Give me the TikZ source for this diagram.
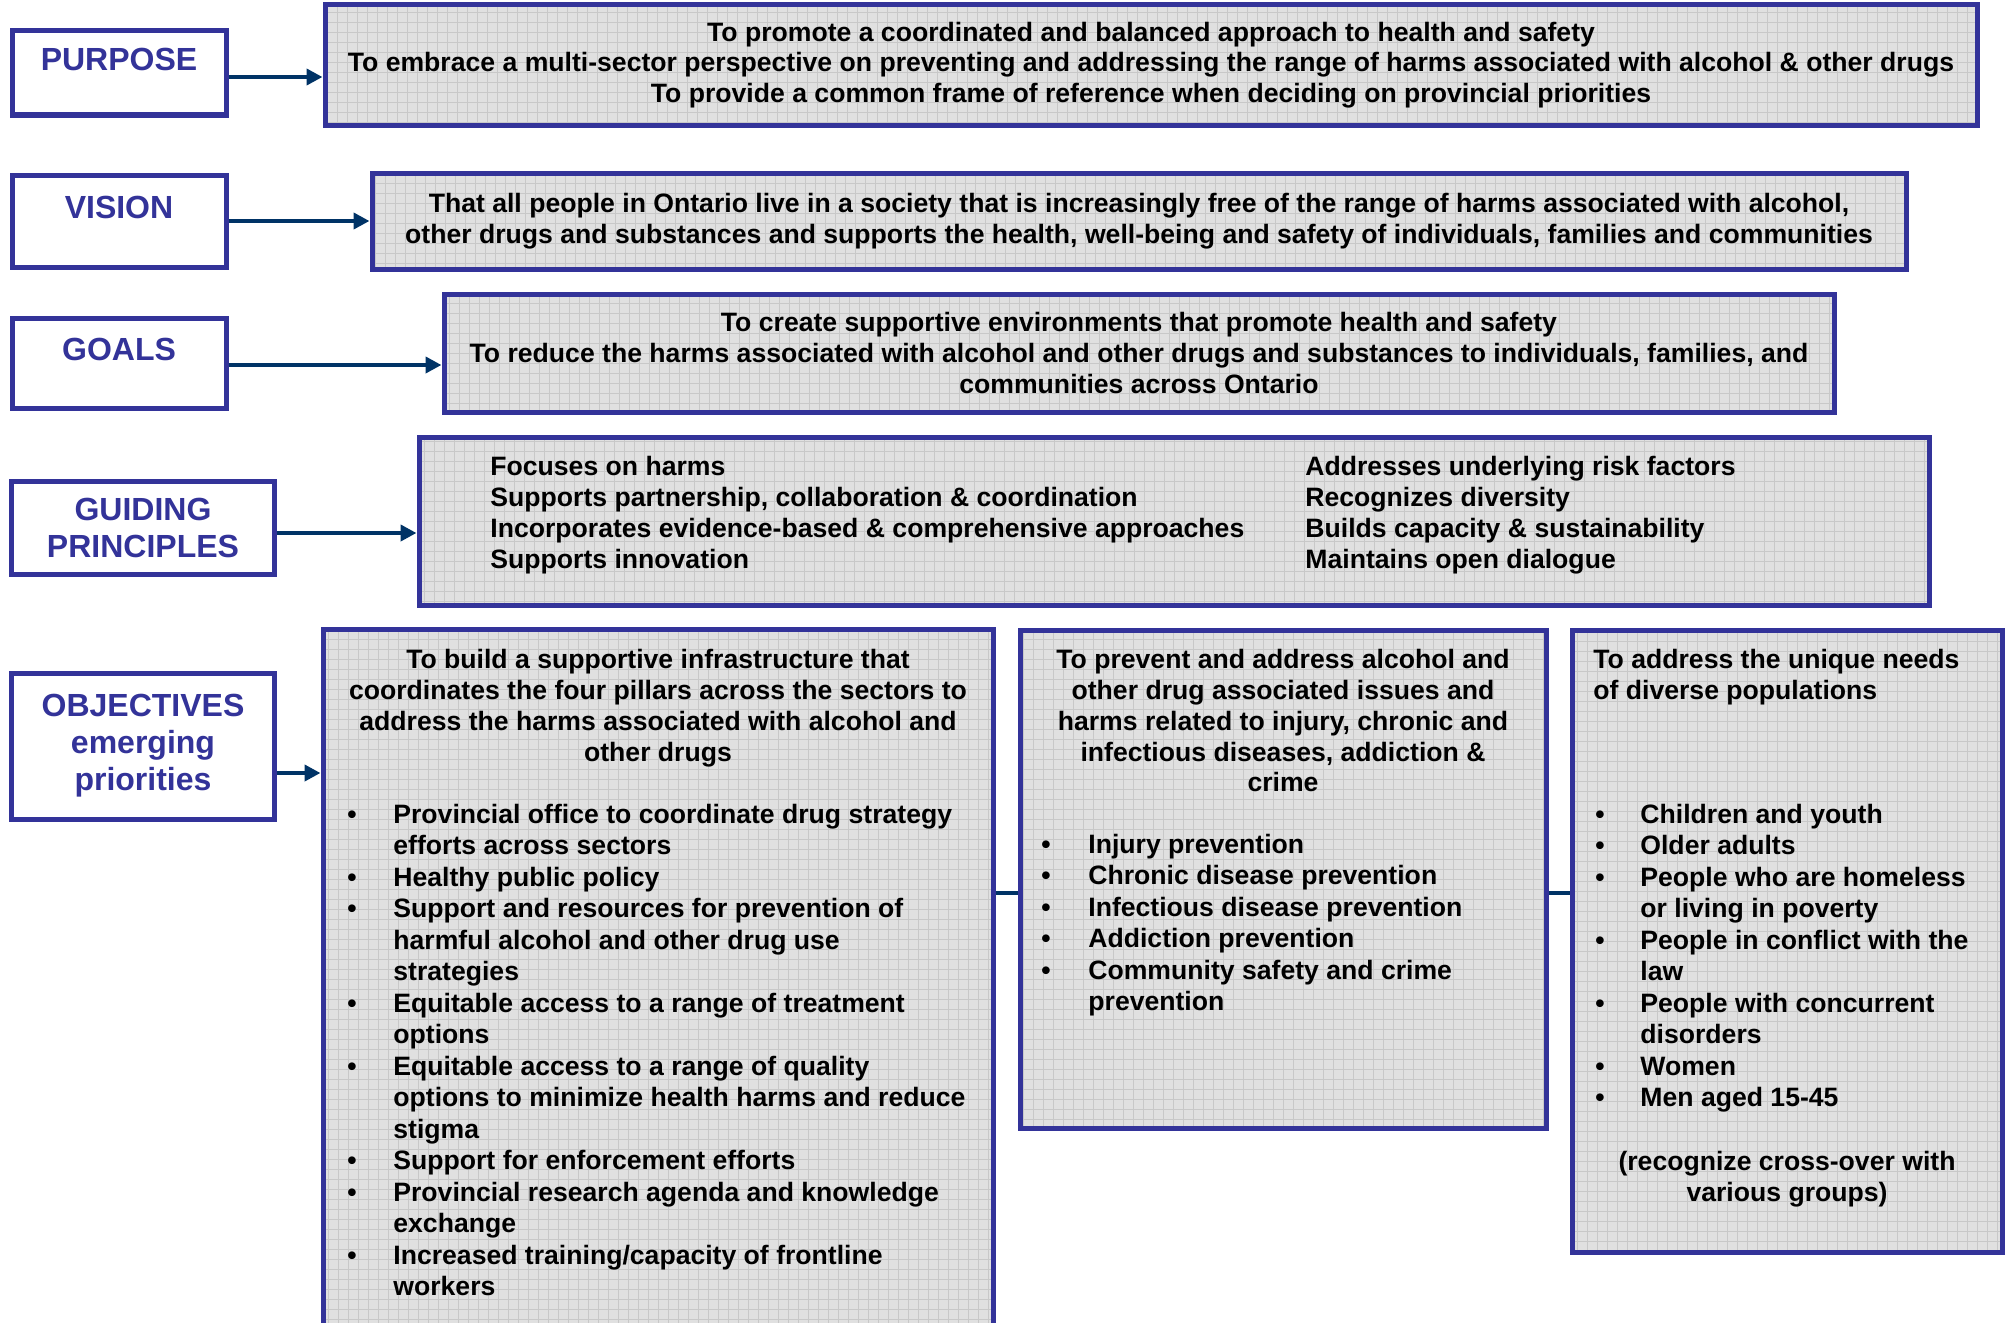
\documentclass[tikz,border=0pt]{standalone}
\usepackage{fontspec}
\setmainfont{Liberation Sans}
\usetikzlibrary{arrows.meta, positioning, calc}
\definecolor{frameblue}{HTML}{333399}
\definecolor{arrownavy}{HTML}{003366}
\definecolor{boxgray}{HTML}{E0E0E0}
\definecolor{gridgray}{HTML}{C8C8C8}
\newcommand{\bodyfont}{\fontsize{13.3}{15.4}\selectfont\bfseries}
\newcommand{\listfont}{\fontsize{13.3}{15.75}\selectfont\bfseries}
\newcommand{\headfont}{\fontsize{16}{18.5}\selectfont\bfseries}

\begin{document}
\begin{tikzpicture}[x=0.5pt, y=-0.5pt,
  labelbox/.style 2 args={rectangle, draw=frameblue, line width=2.5pt, fill=white,
                minimum width=#1, minimum height=#2, align=center, inner sep=0pt,
                text=frameblue, font=\headfont},
  areabox/.style 2 args={rectangle, draw=frameblue, line width=2.5pt, fill=boxgray,
                minimum width=#1, minimum height=#2, align=center, inner sep=0pt,
                font=\bodyfont,
                path picture={\draw[gridgray, line width=0.5pt]
                  (path picture bounding box.south west) grid[step=5pt]
                  (path picture bounding box.north east);}},
  txt/.style={inner sep=0pt, font=\bodyfont},
  listtxt/.style={inner sep=0pt, font=\listfont, anchor=north west},
  arrow/.style={-{Triangle[length=8pt, width=8pt]}, arrownavy, line width=2pt},
  link/.style={arrownavy, line width=2pt}
]
  \path[use as bounding box] (0,0) rectangle (2005,1322);
  \clip (0,0) rectangle (2005,1322);

  % left-hand labels
  \node[labelbox={107pt}{42pt}]     (purp) at (119,73)  {PURPOSE\\[-4.5pt]\mbox{}};
  \node[labelbox={107pt}{46pt}]     (vis)  at (119,221) {VISION\\[-4.5pt]\mbox{}};
  \node[labelbox={107pt}{45pt}]     (goal) at (119,363) {GOALS\\[-4.5pt]\mbox{}};
  \node[labelbox={131.5pt}{46.5pt}] (gp)   at (143,528) {GUIDING\\PRINCIPLES};
  \node[labelbox={131.5pt}{73pt}]   (objl) at (143,746) {OBJECTIVES\\emerging\\priorities};

  % content boxes
  \node[areabox={826pt}{60pt}] (purpbox) at (1151,65)
    {To promote a coordinated and balanced approach to health and safety\\
     To embrace a multi-sector perspective on preventing and addressing the range of harms associated with alcohol \& other drugs\\
     To provide a common frame of reference when deciding on provincial priorities};
  \node[areabox={767pt}{48pt}] (visbox) at (1139,221)
    {That all people in Ontario live in a society that is increasingly free of the range of harms associated with alcohol,\\
     other drugs and substances and supports the health, well-being and safety of individuals, families and communities};
  \node[areabox={695pt}{59pt}] (goalbox) at (1139,353)
    {To create supportive environments that promote health and safety\\
     To reduce the harms associated with alcohol and other drugs and substances to individuals, families, and\\
     communities across Ontario};
  \node[areabox={755pt}{84pt}] (gpbox) at (1174,521) {};
  \node[areabox={335pt}{360pt}] (obj1) at (658,989) {};
  \node[areabox={263pt}{249pt}] (obj2) at (1283,879) {};
  \node[areabox={215pt}{311pt}] (obj3) at (1787,941) {};

  % guiding principles
  \node[txt, anchor=north west, align=left] (gpleft) at (490,456)
    {Focuses on harms\\
     Supports partnership, collaboration \& coordination\\
     Incorporates evidence-based \& comprehensive approaches\\
     Supports innovation};
  \node[txt, anchor=north west, align=left] (gpright) at (1305,456)
    {Addresses underlying risk factors\\
     Recognizes diversity\\
     Builds capacity \& sustainability\\
     Maintains open dialogue};

  % objectives
  \node[txt, anchor=north, align=center] (obj1head) at (658,649)
    {To build a supportive infrastructure that\\
     coordinates the four pillars across the sectors to\\
     address the harms associated with alcohol and\\
     other drugs};
  \node[listtxt] (obj1list) at (347,801)
    {\begin{tabular}{@{}p{23pt}@{}l@{}}
     \textbullet & Provincial office to coordinate drug strategy\\
                 & efforts across sectors\\
     \textbullet & Healthy public policy\\
     \textbullet & Support and resources for prevention of\\
                 & harmful alcohol and other drug use\\
                 & strategies\\
     \textbullet & Equitable access to a range of treatment\\
                 & options\\
     \textbullet & Equitable access to a range of quality\\
                 & options to minimize health harms and reduce\\
                 & stigma\\
     \textbullet & Support for enforcement efforts\\
     \textbullet & Provincial research agenda and knowledge\\
                 & exchange\\
     \textbullet & Increased training/capacity of frontline\\
                 & workers
     \end{tabular}};

  \node[txt, anchor=north, align=center] (obj2head) at (1283,649)
    {To prevent and address alcohol and\\
     other drug associated issues and\\
     harms related to injury, chronic and\\
     infectious diseases, addiction \&\\
     crime};
  \node[listtxt] (obj2list) at (1041,831)
    {\begin{tabular}{@{}p{23.5pt}@{}l@{}}
     \textbullet & Injury prevention\\
     \textbullet & Chronic disease prevention\\
     \textbullet & Infectious disease prevention\\
     \textbullet & Addiction prevention\\
     \textbullet & Community safety and crime\\
                 & prevention
     \end{tabular}};

  \node[txt, anchor=north west, align=left] (obj3head) at (1593,649)
    {To address the unique needs\\
     of diverse populations};
  \node[listtxt] (obj3list) at (1595,801)
    {\begin{tabular}{@{}p{22.5pt}@{}l@{}}
     \textbullet & Children and youth\\
     \textbullet & Older adults\\
     \textbullet & People who are homeless\\
                 & or living in poverty\\
     \textbullet & People in conflict with the\\
                 & law\\
     \textbullet & People with concurrent\\
                 & disorders\\
     \textbullet & Women\\
     \textbullet & Men aged 15-45
     \end{tabular}};
  \node[txt, anchor=north, align=center] (obj3foot) at (1787,1151)
    {(recognize cross-over with\\
     various groups)};

  % connectors
  \draw[arrow] ([yshift=-2pt]purp.east) -- ([yshift=-2pt]purp.east -| purpbox.west);
  \draw[arrow] (vis.east) -- (vis.east -| visbox.west);
  \draw[arrow] ([yshift=-1pt]goal.east) -- ([yshift=-1pt]goal.east -| goalbox.west);
  \draw[arrow] ([yshift=-2.5pt]gp.east) -- ([yshift=-2.5pt]gp.east -| gpbox.west);
  \draw[arrow] ([yshift=-13.5pt]objl.east) -- ([yshift=-13.5pt]objl.east -| obj1.west);
  \draw[link] ([yshift=48pt]obj1.east) -- ([yshift=48pt]obj1.east -| obj2.west);
  \draw[link] ([yshift=-7pt]obj2.east) -- ([yshift=-7pt]obj2.east -| obj3.west);
\end{tikzpicture}
\end{document}
